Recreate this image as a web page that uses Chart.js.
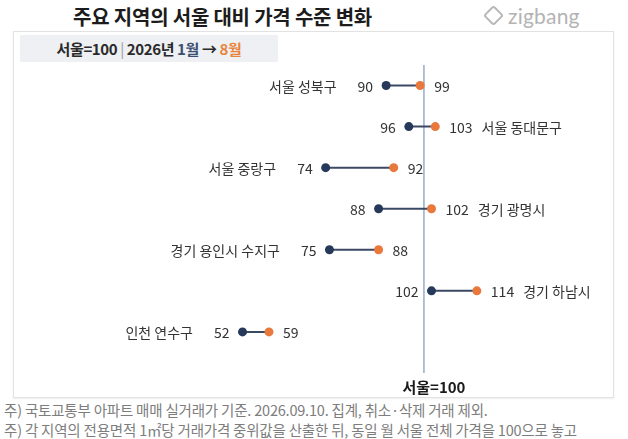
<!DOCTYPE html>
<html>
<head>
<meta charset="utf-8">
<script src="https://cdn.jsdelivr.net/npm/chart.js@4/dist/chart.umd.min.js"></script>
<style>
body{margin:0;width:628px;height:439px;overflow:hidden;background:#fff;font-family:"Noto Sans CJK KR","Noto Sans",sans-serif;position:relative}
#title{position:absolute;left:73px;top:2px;font-size:20px;font-weight:bold;color:#1c1c1c;letter-spacing:-0.2px}
#logo{position:absolute;left:486px;top:3px;font-family:Lato,"Noto Sans",sans-serif;font-size:21px;color:#b3b3b3;letter-spacing:0.2px}
#logo .ic{display:inline-block;width:11px;height:11px;border:2px solid #b8b8b8;border-radius:3px;transform:rotate(45deg);margin-right:7px;vertical-align:1px}
#frame{position:absolute;left:13px;top:31px;width:599px;height:365px;border:1px solid #e2e2e2;box-shadow:0 1px 2px #eee}
#legendBox{position:absolute;left:20px;top:35px;width:258px;height:27px;background:#eef0f3;font-size:15px;font-weight:bold;color:#2a2a2a;line-height:27px;text-align:center;letter-spacing:-0.4px}
#legendBox .m1{color:#3b4f74}
#legendBox .m8{color:#e8843f}
.note{position:absolute;left:4px;font-size:14.5px;line-height:20px;color:#7d7d7d;letter-spacing:-0.2px;white-space:nowrap}
#c{position:absolute;left:0;top:0}
</style>
</head>
<body>
<div id="title">주요 지역의 서울 대비 가격 수준 변화</div>
<div id="logo"><span class="ic"></span>zigbang</div>
<div id="frame"></div>
<div id="legendBox">서울=100 <span style="color:#999;font-weight:normal">|</span> 2026년 <span class="m1">1월</span> → <span class="m8">8월</span></div>
<div class="note" style="top:400px">주) 국토교통부 아파트 매매 실거래가 기준. 2026.09.10. 집계, 취소·삭제 거래 제외.</div>
<div class="note" style="top:420px">주) 각 지역의 전용면적 1㎡당 거래가격 중위값을 산출한 뒤, 동일 월 서울 전체 가격을 100으로 놓고</div>
<canvas id="c" width="628" height="439"></canvas>
<script>
const regions=['서울 성북구','서울 동대문구','서울 중랑구','경기 광명시','경기 용인시 수지구','경기 하남시','인천 연수구'];
const jan=[90,96,74,88,75,102,52];
const aug=[99,103,92,102,88,114,59];
const baseValue=100;

let connector=[];
regions.forEach((r,i)=>{connector.push({x:jan[i],y:i},{x:aug[i],y:i},{x:null,y:null});});

const labelPlugin={
 id:'dumbbellLabels',
 afterDatasetsDraw(chart){
  const ctx=chart.ctx,xs=chart.scales.x,ys=chart.scales.y,area=chart.chartArea;
  ctx.save();
  ctx.textBaseline='middle';
  ctx.fillStyle='#333';
  ctx.font='14px "Noto Sans CJK KR", sans-serif';
  regions.forEach((name,i)=>{
   let y=ys.getPixelForValue(i)+1;
   let xj=xs.getPixelForValue(jan[i]),xa=xs.getPixelForValue(aug[i]);
   let tj=String(jan[i]),ta=String(aug[i]);
   ctx.textAlign='right';
   ctx.fillText(tj,xj-13,y);
   ctx.textAlign='left';
   ctx.fillText(ta,xa+14,y);
   if(aug[i]>baseValue){
    ctx.textAlign='left';
    ctx.fillText(name,xa+14+ctx.measureText(ta).width+9,y);
   }else{
    ctx.textAlign='right';
    ctx.fillText(name,xj-13-ctx.measureText(tj).width-21,y);
   }
  });
  ctx.font='bold 15px "Noto Sans CJK KR", sans-serif';
  ctx.fillStyle='#1a1a1a';
  ctx.textAlign='center';
  ctx.fillText('서울='+baseValue,xs.getPixelForValue(baseValue)+10,area.bottom+14);
  ctx.restore();
 }
};

new Chart(document.getElementById('c'),{
 type:'line',
 data:{datasets:[
  {label:'base',data:[{x:baseValue,y:-0.5},{x:baseValue,y:7}],borderColor:'#97acc7',borderWidth:1.5,pointRadius:0,order:4},
  {label:'change',data:connector,borderColor:'#3c4964',borderWidth:2,pointRadius:0,spanGaps:false,order:3},
  {label:'1월',data:jan.map((v,i)=>({x:v,y:i})),showLine:false,pointRadius:4.5,pointBackgroundColor:'#26395a',pointBorderWidth:0,order:2},
  {label:'8월',data:aug.map((v,i)=>({x:v,y:i})),showLine:false,pointRadius:4.5,pointBackgroundColor:'#e8783c',pointBorderWidth:0,order:1}
 ]},
 options:{
  responsive:false,animation:false,
  layout:{padding:{left:46,right:34,top:65,bottom:66}},
  plugins:{legend:{display:false},tooltip:{enabled:false}},
  scales:{
   x:{type:'linear',min:0,max:145,display:false},
   y:{type:'linear',min:-0.5,max:7,reverse:true,display:false}
  }
 },
 plugins:[labelPlugin]
});
</script>
</body>
</html>
